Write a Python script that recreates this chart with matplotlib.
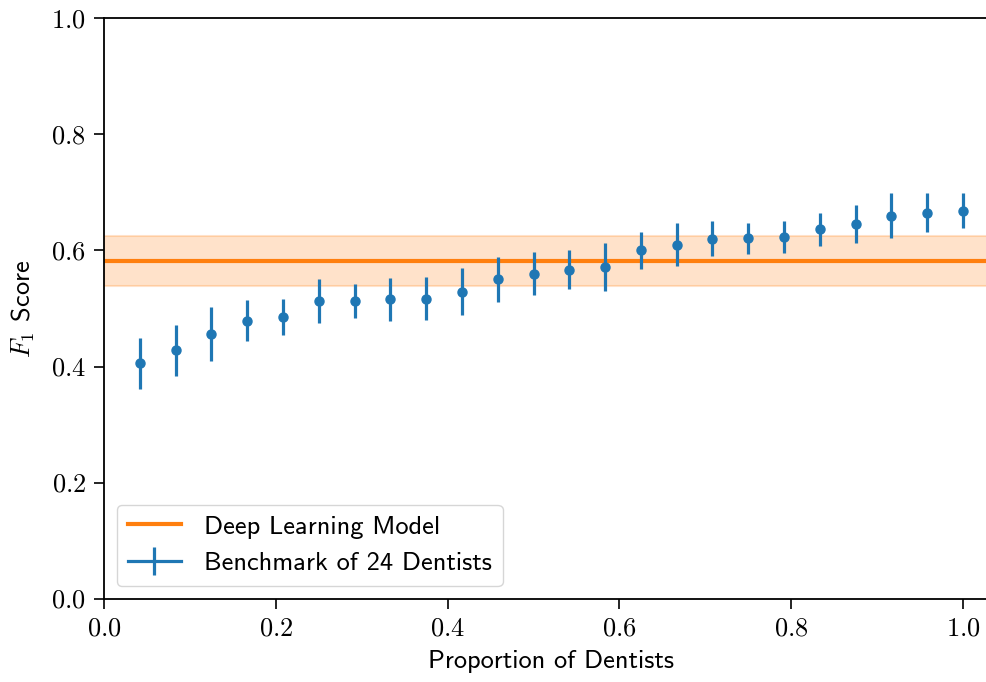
import numpy as np
import matplotlib
matplotlib.use("Agg")
import matplotlib.pyplot as plt
from matplotlib.lines import Line2D
from matplotlib.legend_handler import HandlerTuple
from matplotlib.ticker import FuncFormatter

# ---- data ----
n_dentists = 24
proportion = [k / n_dentists for k in range(1, n_dentists + 1)]
f1_mean = [0.406, 0.428, 0.456, 0.479, 0.486, 0.513, 0.513, 0.516, 0.517, 0.529,
           0.550, 0.560, 0.567, 0.571, 0.600, 0.610, 0.620, 0.621, 0.623, 0.636,
           0.645, 0.660, 0.665, 0.668]
f1_err = [0.044, 0.044, 0.047, 0.035, 0.031, 0.038, 0.030, 0.037, 0.037, 0.041,
          0.038, 0.037, 0.034, 0.041, 0.032, 0.037, 0.030, 0.027, 0.027, 0.028,
          0.033, 0.039, 0.033, 0.030]
model_f1 = 0.582
model_err = 0.043
xticks = [0.0, 0.2, 0.4, 0.6, 0.8, 1.0]
yticks = [0.0, 0.2, 0.4, 0.6, 0.8, 1.0]

plt.rcParams['mathtext.fontset'] = 'cm'
plt.rcParams['font.family'] = ['cmss10', 'DejaVu Sans']
plt.rcParams['axes.unicode_minus'] = False

fig = plt.figure(figsize=(9.87, 6.82), dpi=100)
xmax = 1.04
ax = fig.add_axes([104 / 987, 83 / 682, xmax * 859 / 987, 581 / 682])

c_blue = '#1f77b4'
c_orange = '#ff7f0e'

ax.fill_between([0, xmax + 0.1], model_f1 - model_err, model_f1 + model_err,
                color=c_orange, alpha=0.22, linewidth=1.5, zorder=1)
ax.plot([0, xmax + 0.1], [model_f1, model_f1], color=c_orange, lw=3.0, zorder=2)
ax.errorbar(proportion, f1_mean, yerr=f1_err, fmt='o', color=c_blue,
            ms=6.5, elinewidth=2.3, capsize=0, zorder=3)

ax.set_xlim(0, xmax)
ax.set_ylim(0, 1.0)
ax.set_xticks(xticks)
ax.set_yticks(yticks)
fmt = FuncFormatter(lambda v, p: r'$%.1f$' % v)
ax.xaxis.set_major_formatter(fmt)
ax.yaxis.set_major_formatter(fmt)
ax.tick_params(labelsize=19, width=1.2, length=7, direction='out', pad=6)
for s in ax.spines.values():
    s.set_linewidth(1.3)

ax.set_xlabel('Proportion of Dentists', fontsize=19, labelpad=7)
ax.set_ylabel(r'$F_1$ Score', fontsize=19, labelpad=10)

h_model = Line2D([], [], color=c_orange, lw=3.0)
h_bench = (Line2D([], [], color=c_blue, lw=2.3),
           Line2D([], [], color=c_blue, marker='|', ls='none', ms=20, mew=2.3))
leg = ax.legend([h_model, h_bench], ['Deep Learning Model', 'Benchmark of 24 Dentists'],
                handler_map={tuple: HandlerTuple(ndivide=1, pad=0)},
                loc='lower left', fontsize=19, framealpha=0.8, borderaxespad=0.5,
                handlelength=2.0, handletextpad=0.9)

fig.savefig('out.png', dpi=100)
